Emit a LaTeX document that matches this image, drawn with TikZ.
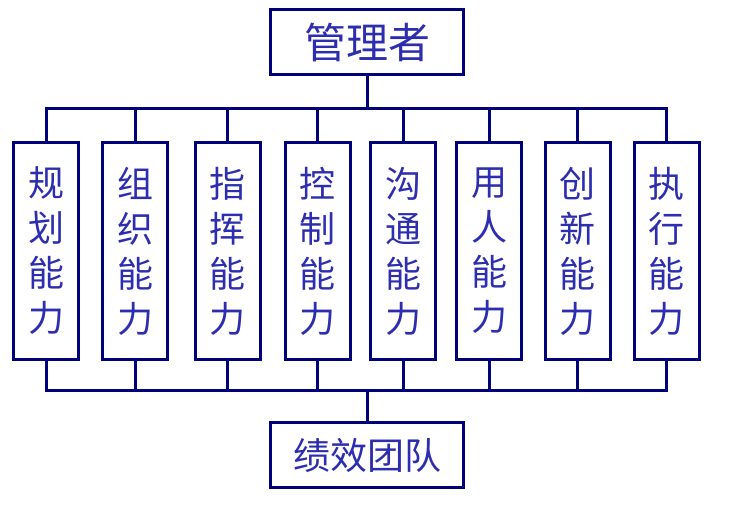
\documentclass[tikz,border=0pt]{standalone}
\usepackage{fontspec}
\newfontfamily\cjkfont{Noto Sans CJK SC}
\definecolor{linenavy}{RGB}{0,0,120}
\definecolor{textblue}{RGB}{45,45,175}

\begin{document}
\begin{tikzpicture}[
  x=1pt, y=-1pt,
  font=\cjkfont,
  leader/.style={
    draw=linenavy, line width=3pt, fill=white, inner sep=0pt,
    minimum width=193pt, minimum height=65pt,
    text=textblue, font=\cjkfont\fontsize{42}{50}\selectfont
  },
  skill/.style={
    draw=linenavy, line width=3pt, fill=white, inner sep=0pt,
    minimum width=65pt, minimum height=217pt, align=center,
    text=textblue, font=\cjkfont\fontsize{36}{45}\selectfont
  },
  bus/.style={draw=linenavy, line width=3pt, line cap=rect},
]
\useasboundingbox (0,0) rectangle (733,509);

% Bus junctions
\coordinate (topbus) at (367,108);
\coordinate (botbus) at (367,390);

% Top and bottom boxes
\node[leader] (mgr) at (367,42) {管理者};
\node[leader, font=\cjkfont\fontsize{37}{45}\selectfont] (team) at (367,455) {绩效团队};

% Eight ability columns
\foreach \name/\x/\a/\b in {plan/46/规/划, org/135/组/织, lead/227.5/指/挥, ctrl/317.5/控/制,
    comm/403/沟/通, staff/489/用/人, innov/577.5/创/新, exec/666.5/执/行} {
  \node[skill] (\name) at (\x,251) {\a\\\b\\能\\力};
}

% Connectors
\draw[bus] (mgr.south) -- (topbus);
\draw[bus] (topbus -| plan.north) -- (topbus -| exec.north);
\draw[bus] (botbus -| plan.south) -- (botbus -| exec.south);
\draw[bus] (botbus) -- (team.north);
\foreach \name in {plan, org, lead, ctrl, comm, staff, innov, exec} {
  \draw[bus] (\name.north) -- (topbus -| \name.north);
  \draw[bus] (\name.south) -- (botbus -| \name.south);
}

\end{tikzpicture}
\end{document}
